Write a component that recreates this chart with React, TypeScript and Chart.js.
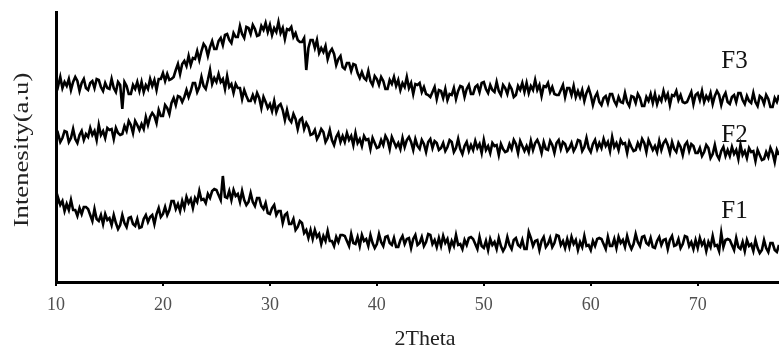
import React, { useEffect, useRef } from "react";
import { Chart, registerables } from "chart.js";

Chart.register(...registerables);

// 2Theta scan: starts at 10°, one reading every 0.2°
const TWO_THETA_START = 10;
const TWO_THETA_STEP = 0.2;
const X_TICKS = [10, 20, 30, 40, 50, 60, 70];
const SERIES_NAMES = ["F1", "F2", "F3"];

const F3 = [
  203, 196, 205, 194, 200, 196, 203, 192, 200, 205, 201, 191, 199, 203, 194, 192, 199, 201, 194, 203,
  202, 195, 191, 199, 194, 193, 203, 194, 190, 200, 197, 173, 200, 196, 188, 188, 197, 193, 200, 191,
  200, 190, 197, 193, 203, 196, 202, 192, 203, 203, 209, 201, 208, 202, 203, 205, 212, 218, 208, 218,
  221, 216, 226, 217, 224, 223, 231, 222, 231, 238, 235, 226, 235, 241, 233, 233, 241, 244, 237, 247,
  248, 242, 239, 249, 245, 245, 256, 248, 244, 255, 254, 248, 257, 253, 246, 247, 256, 252, 259, 250,
  257, 247, 254, 250, 260, 249, 254, 243, 253, 252, 255, 245, 249, 242, 240, 240, 244, 212, 234, 242,
  242, 234, 242, 229, 234, 230, 236, 223, 230, 233, 228, 217, 223, 226, 215, 213, 219, 219, 211, 218,
  217, 209, 204, 210, 204, 202, 211, 201, 197, 206, 203, 197, 205, 201, 193, 193, 202, 198, 205, 196,
  202, 192, 199, 195, 205, 194, 199, 188, 198, 197, 199, 190, 195, 188, 187, 185, 190, 195, 183, 192,
  191, 184, 193, 182, 188, 187, 194, 183, 191, 196, 195, 185, 193, 197, 188, 188, 195, 197, 190, 199,
  200, 193, 189, 197, 192, 190, 200, 191, 187, 197, 194, 188, 197, 193, 185, 187, 196, 192, 199, 190,
  199, 189, 196, 192, 202, 192, 197, 186, 196, 195, 199, 190, 195, 188, 187, 187, 192, 197, 185, 194,
  194, 187, 196, 185, 191, 185, 192, 181, 189, 194, 187, 177, 185, 189, 180, 177, 184, 186, 179, 188,
  188, 181, 177, 185, 180, 179, 189, 180, 176, 186, 185, 179, 188, 184, 176, 176, 185, 181, 188, 179,
  188, 178, 185, 181, 191, 183, 188, 177, 187, 186, 191, 182, 187, 180, 179, 180, 185, 190, 178, 187,
  189, 182, 191, 180, 186, 182, 189, 178, 186, 191, 187, 177, 185, 189, 180, 178, 185, 187, 180, 189,
  189, 182, 178, 186, 181, 179, 189, 180, 176, 186, 184, 178, 187, 183, 175, 175, 184, 180, 187, 178,
  180,
];

const F2 = [
  143, 148, 140, 144, 151, 150, 140, 144, 153, 143, 139, 147, 151, 142, 148, 145, 154, 147, 151, 142,
  157, 147, 151, 144, 154, 152, 153, 143, 154, 149, 147, 148, 156, 151, 161, 157, 149, 161, 157, 152,
  158, 153, 165, 157, 165, 169, 166, 159, 172, 166, 166, 177, 174, 168, 179, 184, 177, 186, 185, 180,
  185, 192, 185, 191, 199, 199, 190, 195, 205, 196, 193, 202, 212, 198, 204, 200, 208, 200, 203, 193,
  206, 195, 198, 189, 198, 194, 194, 183, 192, 186, 181, 181, 187, 181, 189, 184, 174, 185, 180, 174,
  178, 171, 181, 170, 176, 178, 172, 162, 172, 163, 160, 168, 163, 153, 162, 164, 153, 159, 155, 147,
  148, 152, 143, 147, 153, 150, 140, 144, 152, 142, 137, 145, 149, 140, 146, 140, 149, 142, 146, 137,
  149, 139, 143, 136, 146, 142, 143, 133, 144, 139, 134, 135, 142, 137, 146, 142, 133, 145, 140, 135,
  139, 133, 144, 135, 142, 145, 140, 132, 143, 136, 133, 142, 138, 130, 140, 143, 134, 141, 139, 132,
  134, 139, 131, 135, 142, 140, 130, 134, 143, 133, 128, 136, 140, 131, 137, 132, 141, 134, 138, 129,
  142, 132, 136, 129, 139, 136, 137, 127, 138, 133, 130, 131, 138, 133, 142, 138, 129, 141, 136, 131,
  136, 130, 141, 132, 139, 142, 137, 129, 140, 133, 132, 141, 137, 129, 139, 142, 133, 140, 138, 131,
  134, 139, 131, 135, 142, 141, 131, 135, 144, 134, 130, 138, 142, 133, 139, 134, 143, 136, 140, 131,
  145, 135, 139, 132, 142, 138, 139, 129, 140, 135, 131, 132, 139, 134, 143, 139, 130, 142, 137, 132,
  136, 130, 141, 132, 139, 142, 137, 129, 140, 133, 130, 139, 135, 127, 137, 140, 131, 138, 136, 129,
  129, 134, 126, 130, 137, 134, 124, 128, 137, 127, 123, 131, 135, 126, 132, 126, 135, 128, 132, 123,
  137, 127, 131, 124, 134, 130, 131, 121, 132, 127, 122, 123, 130, 125, 134, 129, 120, 132, 127, 122,
  125,
];

const F1 = [
  74, 84, 77, 81, 71, 78, 72, 82, 72, 72, 66, 74, 68, 75, 75, 73, 67, 61, 73, 63,
  61, 67, 58, 68, 62, 64, 57, 67, 59, 53, 57, 67, 59, 55, 64, 65, 58, 56, 63, 54,
  55, 63, 67, 60, 65, 67, 58, 68, 74, 65, 68, 75, 67, 72, 81, 81, 73, 78, 71, 81,
  74, 85, 79, 83, 74, 84, 80, 91, 82, 83, 79, 88, 84, 91, 93, 92, 87, 82, 106, 85,
  84, 91, 82, 92, 86, 88, 80, 91, 82, 77, 80, 89, 80, 76, 84, 84, 76, 73, 79, 69,
  68, 74, 77, 67, 71, 71, 59, 67, 69, 58, 58, 63, 52, 55, 61, 59, 49, 52, 44, 52,
  43, 52, 45, 48, 38, 46, 41, 51, 41, 41, 36, 45, 40, 47, 47, 46, 41, 36, 48, 39,
  38, 45, 36, 47, 41, 43, 36, 47, 39, 34, 38, 48, 40, 36, 45, 46, 39, 37, 44, 35,
  35, 42, 46, 38, 43, 44, 34, 43, 47, 37, 39, 45, 36, 40, 48, 47, 38, 42, 35, 44,
  36, 46, 39, 43, 33, 41, 36, 47, 37, 38, 33, 42, 37, 44, 45, 43, 38, 33, 45, 36,
  34, 41, 32, 43, 37, 40, 33, 44, 36, 31, 35, 45, 37, 33, 42, 44, 37, 35, 42, 33,
  33, 50, 44, 36, 41, 42, 32, 41, 45, 35, 38, 44, 35, 39, 47, 46, 37, 41, 34, 43,
  35, 45, 38, 42, 32, 40, 35, 46, 36, 37, 32, 41, 36, 43, 44, 43, 38, 33, 45, 36,
  36, 43, 34, 45, 39, 42, 35, 46, 38, 33, 38, 48, 40, 36, 45, 46, 39, 37, 44, 35,
  34, 41, 45, 37, 42, 43, 33, 42, 46, 36, 37, 43, 34, 38, 46, 45, 36, 40, 33, 42,
  34, 44, 37, 41, 31, 40, 35, 46, 36, 37, 31, 49, 35, 42, 43, 42, 37, 32, 44, 35,
  33, 40, 31, 42, 36, 38, 31, 42, 34, 29, 32, 42, 34, 30, 39, 39, 32, 30, 37, 28,
  33,
];

// label anchors in data units (2Theta, intensity)
const LABEL_X = 72.2;
const LABEL_Y = [64, 140, 214];

const W = 779;
const H = 349;

const toPoints = (vals: number[]) =>
  vals.map((v, i) => ({ x: TWO_THETA_START + i * TWO_THETA_STEP, y: v }));

const textPlugin = {
  id: "xrdText",
  afterDraw(chart: any) {
    const ctx = chart.ctx;
    const xs = chart.scales.x;
    const ys = chart.scales.y;
    ctx.save();
    ctx.fillStyle = "#111";
    ctx.textAlign = "left";
    ctx.textBaseline = "alphabetic";
    ctx.font = '25px "Liberation Serif"';
    SERIES_NAMES.forEach((name, i) => {
      ctx.fillText(name, xs.getPixelForValue(LABEL_X), ys.getPixelForValue(LABEL_Y[i]));
    });
    // x title
    ctx.fillStyle = "#222";
    ctx.font = '22px "Liberation Serif"';
    ctx.textAlign = "center";
    ctx.fillText("2Theta", 425, 345);
    // y title (stretched along its length like the original)
    ctx.translate(22, 150);
    ctx.rotate(-Math.PI / 2);
    ctx.scale(1.21, 1);
    ctx.textBaseline = "middle";
    ctx.fillText("Intenesity(a.u)", 0, 0);
    ctx.restore();
  },
};

export default function App() {
  const ref = useRef<HTMLCanvasElement>(null);
  useEffect(() => {
    if (!ref.current) return;
    const mk = (data: number[]) => ({
      data: toPoints(data),
      borderColor: "#000",
      borderWidth: 2.6,
      borderJoinStyle: "miter" as const,
      pointRadius: 0,
      tension: 0,
      fill: false,
    });
    const chart = new Chart(ref.current, {
      type: "line",
      data: {
        datasets: [
          { label: SERIES_NAMES[0], ...mk(F1) },
          { label: SERIES_NAMES[1], ...mk(F2) },
          { label: SERIES_NAMES[2], ...mk(F3) },
        ],
      },
      options: {
        animation: false,
        responsive: false,
        devicePixelRatio: 1,
        parsing: false as any,
        layout: { padding: { top: 12, right: 0, left: 0, bottom: 0 } },
        plugins: { legend: { display: false }, tooltip: { enabled: false } },
        scales: {
          x: {
            type: "linear",
            min: 10,
            max: 77.6,
            border: { display: true, color: "#000", width: 3 },
            grid: {
              display: true,
              drawOnChartArea: false,
              drawTicks: true,
              tickLength: 4,
              color: "#000",
              lineWidth: 2,
            },
            ticks: {
              stepSize: 10,
              color: "#505050",
              padding: 8,
              maxRotation: 0,
              font: { family: "Liberation Serif", size: 18 },
            },
            afterBuildTicks: (s: any) => {
              s.ticks = X_TICKS.map((v) => ({ value: v }));
            },
            afterFit: (s: any) => {
              s.height = H - 282;
            },
          },
          y: {
            type: "linear",
            min: 0,
            max: 270,
            border: { display: true, color: "#000", width: 3 },
            grid: { display: false, drawTicks: false },
            ticks: { display: false },
            afterFit: (s: any) => {
              s.width = 56;
            },
          },
        },
      },
      plugins: [textPlugin],
    });
    return () => chart.destroy();
  }, []);
  return (
    <div style={{ position: "fixed", left: 0, top: 0, width: W, height: H, background: "#fff" }}>
      <canvas ref={ref} width={W} height={H} style={{ width: W, height: H }} />
    </div>
  );
}
